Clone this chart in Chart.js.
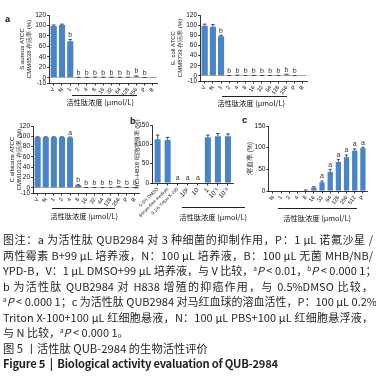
<!DOCTYPE html>
<html>
<head>
<meta charset="utf-8">
<script src="https://cdn.jsdelivr.net/npm/chart.js@4.4.0/dist/chart.umd.min.js"></script>
<style>
  body { margin: 0; background: #fff; width: 376px; height: 378px; overflow: hidden; position: relative; font-family: "Liberation Sans", "Noto Sans CJK SC", sans-serif; }
  canvas { position: absolute; }
  .lbl { position: absolute; font-weight: bold; font-size: 9px; color: #111; }
  .xt { position: absolute; font-size: 7.3px; transform: translate(-50%, -50%); white-space: nowrap; font-family: "Noto Sans CJK SC", sans-serif; color: #111; }
  .br { position: absolute; height: 0; border-top: 1px solid #222; }
  #cap { position: absolute; left: 3px; top: 232px; width: 370px; font-family: "Noto Sans CJK SC", sans-serif; font-size: 11px; color: #231f20; }
  #cap div { height: 15.5px; line-height: 15.5px; white-space: nowrap; text-align: justify; text-align-last: justify; }
  #cap div.l { text-align-last: left; }
  #cap sup { font-size: 6.5px; vertical-align: 4px; line-height: 0; }
</style>
</head>
<body>
<div class="lbl" style="left:5px;top:14px">a</div>
<div class="lbl" style="left:130px;top:116px">b</div>
<div class="lbl" style="left:242px;top:115px">c</div>

<canvas id="aureus"></canvas>
<canvas id="ecoli"></canvas>
<canvas id="albicans"></canvas>
<canvas id="h838"></canvas>
<canvas id="hemo"></canvas>

<div class="br" style="left:72px;top:95px;width:65px"></div>
<div class="xt" style="left:100px;top:102px">活性肽浓度 (μmol/L)</div>
<div class="br" style="left:222px;top:96px;width:65px"></div>
<div class="xt" style="left:251px;top:103px">活性肽浓度 (μmol/L)</div>
<div class="br" style="left:52px;top:208px;width:63px"></div>
<div class="xt" style="left:84px;top:216px">活性肽浓度 (μmol/L)</div>
<div class="br" style="left:182px;top:207px;width:63px"></div>
<div class="xt" style="left:213px;top:217px">活性肽浓度 (μmol/L)</div>
<div class="br" style="left:278px;top:208px;width:79px"></div>
<div class="xt" style="left:317px;top:218px">活性肽浓度 (μmol/L)</div>

<div id="cap">
  <div>图注：a 为活性肽 QUB2984 对 3 种细菌的抑制作用，P：1 μL 诺氟沙星 /</div>
  <div>两性霉素 B+99 μL 培养液，N：100 μL 培养液，B：100 μL 无菌 MHB/NB/</div>
  <div>YPD-B，V：1 μL DMSO+99 μL 培养液，与 V 比较，<sup>a</sup><i>P</i> &lt; 0.01，<sup>b</sup><i>P</i> &lt; 0.000 1；</div>
  <div>b 为活性肽 QUB2984 对 H838 增殖的抑癌作用，与 0.5%DMSO 比较，</div>
  <div><sup>a</sup><i>P</i> &lt; 0.000 1；c 为活性肽 QUB2984 对马红血球的溶血活性，P：100 μL 0.2%</div>
  <div>Triton X-100+100 μL 红细胞悬液，N：100 μL PBS+100 μL 红细胞悬浮液，</div>
  <div class="l">与 N 比较，<sup>a</sup><i>P</i> &lt; 0.000 1。</div>
  <div class="l" style="font-size:11.3px">图 5 丨活性肽 QUB-2984 的生物活性评价</div>
  <div class="l" style="font-weight:bold;letter-spacing:-0.25px;font-size:11.2px">Figure 5 &nbsp;| &nbsp;Biological activity evaluation of QUB-2984</div>
</div>

<script>
// panel a: three microbes, same concentration axis
const microbeLabels = ["V", "N", "1", "2", "4", "8", "16", "32", "64", "128", "256", "P", "B"];
const aureusValues = [99, 101, 70, 0.5, 0.5, 0.8, 0.8, 0.6, 0.6, 0.8, 2.5, 0.3, 0.2];
const aureusErrors = [2, 1.5, 3, 0.5, 0.5, 0.5, 0.5, 0.5, 0.5, 0.5, 1, 0.3, 0];
const aureusMarks = ["", "", "b", "b", "b", "b", "b", "b", "b", "b", "b", "b", ""];
const ecoliValues = [99, 97, 78, 0.4, 0.6, 0.5, 0.5, 0.4, 0.4, 0.6, 2.5, 0.3, 0.2];
const ecoliErrors = [3, 4, 2, 0.5, 1, 0.5, 0.5, 0.5, 0.5, 0.5, 1, 0.3, 0];
const ecoliMarks = ["", "", "b", "b", "b", "b", "b", "b", "b", "b", "b", "b", ""];
const albicansValues = [98, 98, 98, 98, 97, 5, 0.3, 0.3, 0.3, 0.5, 2, 0.3, 0.3];
const albicansErrors = [1, 1, 1, 1, 1.5, 1, 0.3, 0.3, 0.3, 0.3, 1, 0.3, 0.2];
const albicansMarks = ["", "", "", "", "a", "b", "b", "b", "b", "b", "b", "b", "b"];
const survivalTicks = [-10, 0, 20, 40, 60, 80, 100, 120];

// panel b: H838 proliferation
const h838Labels = ["0.5% DMSO", "Serum-free medium", "0.1% Triton X-100", "10²", "10", "1", "10⁻¹", "10⁻²"];
const h838Values = [113, 111, 0, 0, 0, 118, 121, 121];
const h838Errors = [11, 7, 0, 0, 0, 6, 7, 6];
const h838Marks = ["", "", "a", "a", "a", "", "", ""];

// panel c: hemolysis
const hemoLabels = ["N", "1", "2", "4", "8", "16", "32", "64", "128", "256", "512", "P"];
const hemoValues = [0, 0, 0, 0, 1.5, 8, 20, 44, 67, 78, 93, 99];
const hemoErrors = [0, 0, 0, 0, 1, 2, 3, 6, 6, 5, 4, 2];
const hemoMarks = ["", "", "", "", "", "", "a", "a", "a", "a", "a", "a"];
const percentTicks = [0, 50, 100, 150];

const BAR = "#4a84c4";

// error bars and significance letters on top of each bar
const errMarks = {
  id: "errMarks",
  afterDatasetsDraw(chart) {
    const ctx = chart.ctx, y = chart.scales.y, ds = chart.data.datasets[0];
    ctx.save();
    ctx.strokeStyle = "#222";
    ctx.lineWidth = 0.8;
    ctx.fillStyle = "#333";
    ctx.font = '7px "Liberation Sans"';
    ctx.textAlign = "center";
    ctx.textBaseline = "bottom";
    chart.getDatasetMeta(0).data.forEach((bar, i) => {
      const v = ds.data[i], e = ds.errors[i];
      const top = y.getPixelForValue(v + e);
      if (e > 0) {
        const cap = bar.width * 0.3;
        ctx.beginPath();
        ctx.moveTo(bar.x, y.getPixelForValue(v));
        ctx.lineTo(bar.x, top);
        ctx.moveTo(bar.x - cap, top);
        ctx.lineTo(bar.x + cap, top);
        ctx.stroke();
      }
      if (ds.marks[i]) ctx.fillText(ds.marks[i], bar.x, top - 1);
    });
    ctx.restore();
  },
};

function drawPanel(id, c) {
  const lh = c.titleSize * 1.2;
  const left = c.titleX - lh / 2 - 1;
  const top = c.plot[1] - 6;
  const w = Math.round(c.plot[2] + 3 - left);
  const h = Math.round(c.plot[3] + c.xh - top);
  const cv = document.getElementById(id);
  cv.style.left = left + "px";
  cv.style.top = top + "px";
  cv.width = w;
  cv.height = h;
  cv.style.width = w + "px";
  cv.style.height = h + "px";

  new Chart(cv, {
    type: "bar",
    data: {
      labels: c.labels,
      datasets: [{
        data: c.values,
        errors: c.errors,
        marks: c.marks,
        backgroundColor: BAR,
        barPercentage: c.barPct,
        categoryPercentage: 1,
      }],
    },
    options: {
      responsive: false,
      animation: false,
      layout: { autoPadding: false, padding: { top: 6, right: 3, left: 0, bottom: 0 } },
      plugins: { legend: { display: false }, tooltip: { enabled: false } },
      scales: {
        x: {
          grid: { drawOnChartArea: false, offset: false, tickLength: 2.5, color: "#000", lineWidth: 0.8 },
          border: { color: "#000", width: 0.8 },
          ticks: {
            autoSkip: false, minRotation: c.rot, maxRotation: c.rot, padding: 1, color: "#111",
            font: (t) => ({ size: c.xFont(t.index) }),
          },
          afterFit: (s) => { s.height = c.xh; },
        },
        y: {
          min: c.ticks[0],
          max: c.ticks[c.ticks.length - 1],
          afterBuildTicks: (s) => { s.ticks = c.ticks.map((v) => ({ value: v })); },
          grid: {
            drawOnChartArea: c.zero,
            color: (g) => (g.tick && g.tick.value === 0 ? "#aaa" : "rgba(0,0,0,0)"),
            tickColor: "#000",
            tickLength: 2.5,
            lineWidth: 0.8,
          },
          border: { color: "#000", width: 0.8 },
          ticks: { autoSkip: false, padding: 1, color: "#111", font: { size: 6.5 } },
          title: { display: true, text: c.title, color: "#111", font: { size: c.titleSize }, padding: { top: 1, bottom: 0 } },
          afterFit: (s) => { s.width = c.plot[0] - left; },
        },
      },
    },
    plugins: [errMarks],
  });
}

const small = () => 5.5;

drawPanel("aureus", {
  labels: microbeLabels, values: aureusValues, errors: aureusErrors, marks: aureusMarks,
  ticks: survivalTicks, title: ["S.aureus ATCC", "CMM6538 存活率 (%)"],
  plot: [50, 15, 157, 83], titleX: 23, titleSize: 6, xh: 18, rot: 55, xFont: small, barPct: 0.75, zero: true,
});
drawPanel("ecoli", {
  labels: microbeLabels, values: ecoliValues, errors: ecoliErrors, marks: ecoliMarks,
  ticks: survivalTicks, title: ["E. coli ATCC", "CMM8739 存活率 (%)"],
  plot: [201, 15, 307, 81], titleX: 174, titleSize: 6, xh: 18, rot: 55, xFont: small, barPct: 0.75, zero: true,
});
drawPanel("albicans", {
  labels: microbeLabels, values: albicansValues, errors: albicansErrors, marks: albicansMarks,
  ticks: survivalTicks, title: ["C.albicans ATCC", "CMM10231 存活率 (%)"],
  plot: [34, 126, 139, 193], titleX: 13, titleSize: 6, xh: 18, rot: 55, xFont: small, barPct: 0.75, zero: true,
});
drawPanel("h838", {
  labels: h838Labels, values: h838Values, errors: h838Errors, marks: h838Marks,
  ticks: percentTicks, title: "NCI-H838 细胞增殖率 (%)",
  plot: [153, 125, 233, 183], titleX: 138, titleSize: 6, xh: 40, rot: 45,
  xFont: (i) => (i < 3 ? 4.5 : 6.5), barPct: 0.6, zero: false,
});
drawPanel("hemo", {
  labels: hemoLabels, values: hemoValues, errors: hemoErrors, marks: hemoMarks,
  ticks: percentTicks, title: "溶血率 (%)",
  plot: [269, 126, 367, 191], titleX: 250, titleSize: 6.5, xh: 18, rot: 55, xFont: small, barPct: 0.65, zero: false,
});
</script>
</body>
</html>
